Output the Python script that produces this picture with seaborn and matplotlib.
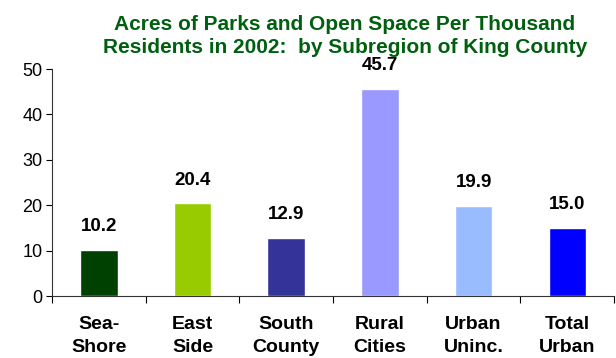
import matplotlib
matplotlib.use("Agg")
import matplotlib.pyplot as plt
import seaborn as sns
import pandas as pd

categories = ["Sea-\nShore", "East\nSide", "South\nCounty", "Rural\nCities", "Urban\nUninc.", "Total\nUrban"]
values = [10.2, 20.4, 12.9, 45.7, 19.9, 15.0]
colors = ["#004000", "#99CC00", "#333399", "#9999FF", "#99BBFF", "#0000FF"]
title = "Acres of Parks and Open Space Per Thousand\nResidents in 2002:  by Subregion of King County"

sns.set_theme(style="white")
plt.rcParams['font.family'] = ['Liberation Sans', 'DejaVu Sans']

df = pd.DataFrame({"cat": categories, "val": values})

fig = plt.figure(figsize=(6.16, 3.58), dpi=100)
ax = fig.add_axes([0.0844, 0.173, 0.9126, 0.634])
sns.barplot(data=df, x="cat", y="val", hue="cat", palette=colors, width=0.4,
            legend=False, ax=ax, saturation=1)

ax.set_ylim(0, 50)
ax.set_xlim(-0.5, 5.5)
ax.set_yticks([0, 10, 20, 30, 40, 50])
ax.tick_params(axis='y', labelsize=13, length=4, width=0.8, direction='out', left=True, colors='black', pad=3)
ax.set_xticks([i - 0.5 for i in range(7)])
ax.set_xticklabels([])
ax.set_xticks(range(6), minor=True)
ax.set_xticklabels(categories, minor=True, fontsize=14, fontweight='bold')
ax.tick_params(axis='x', which='major', length=5, width=0.8, direction='out', bottom=True, colors='black')
ax.tick_params(axis='x', which='minor', length=0, pad=14, labelcolor='black')
for lab in ax.get_xticklabels(minor=True):
    lab.set_linespacing(1.5)

for s in ['top', 'right']:
    ax.spines[s].set_visible(False)
for s in ['left', 'bottom']:
    ax.spines[s].set_color('#333333')
    ax.spines[s].set_linewidth(0.8)

ax.set_xlabel("")
ax.set_ylabel("")

for i, v in enumerate(values):
    ax.text(i, v + 3.2, f"{v:.1f}", ha='center', va='bottom', fontsize=13.5, fontweight='bold', color='black')

fig.text(0.56, 0.842, title, ha='center', va='bottom', fontsize=15, fontweight='bold',
         color='#006010', linespacing=1.25)

fig.savefig("out.png", dpi=100)
